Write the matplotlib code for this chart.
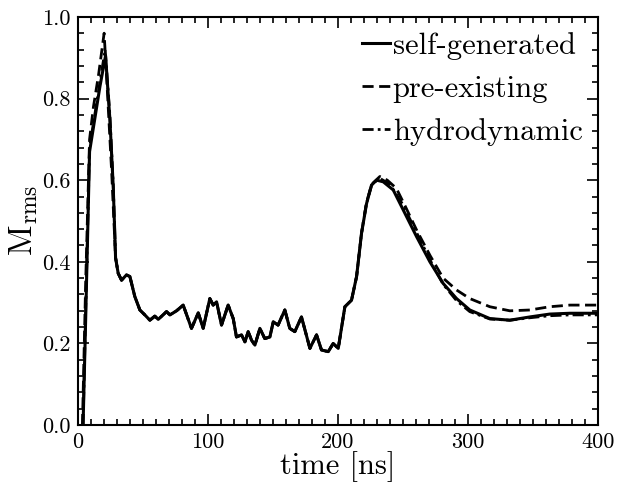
import matplotlib
matplotlib.use('Agg')
import matplotlib.pyplot as plt
from matplotlib.ticker import MultipleLocator, FormatStrFormatter

# fonts that look like the LaTeX original
plt.rcParams['font.family'] = ['cmr10', 'DejaVu Serif']
plt.rcParams['mathtext.fontset'] = 'cm'
plt.rcParams['axes.formatter.use_mathtext'] = False

# shared noisy middle part (all three runs coincide here)
t_mid = [29, 31, 33.6, 37.4, 40, 43.8, 47.7, 51.5, 55.4, 59.2, 61.8, 68.2, 70.8, 75.9,
         81, 87.4, 92.6, 96.4, 101.5, 104.1, 106.7, 110.5, 115.6, 119.5, 122, 125.9,
         128.5, 131, 133.6, 136.2, 140, 143.8, 147.7, 150.3, 154, 159.2, 163, 166.9,
         172, 178.5, 183.6, 187.4, 192.6, 196.4, 200.3, 205.4, 210.5, 214.4, 218.2]
m_mid = [0.41, 0.372, 0.355, 0.368, 0.364, 0.315, 0.282, 0.27, 0.257, 0.267, 0.259, 0.278,
         0.27, 0.28, 0.294, 0.237, 0.275, 0.237, 0.31, 0.294, 0.302, 0.245, 0.294, 0.261,
         0.216, 0.221, 0.204, 0.229, 0.208, 0.196, 0.237, 0.212, 0.216, 0.253, 0.245, 0.282,
         0.237, 0.229, 0.265, 0.188, 0.221, 0.184, 0.18, 0.2, 0.188, 0.29, 0.306, 0.364, 0.47]

# self-generated
t_self_a = [4, 6, 9, 13, 17, 21.3, 24.6, 27.2]
m_self_a = [0.0, 0.26, 0.67, 0.75, 0.83, 0.905, 0.75, 0.584]
t_self_b = [222.1, 225.9, 229.8, 234.9, 242.6, 250.3, 260.5, 270.8, 281, 291.3, 301.5,
            316.9, 332.3, 347.7, 363, 378.5, 400]
m_self_b = [0.543, 0.588, 0.6, 0.596, 0.576, 0.527, 0.462, 0.4, 0.347, 0.31, 0.282,
            0.261, 0.257, 0.265, 0.272, 0.274, 0.274]

# pre-existing
t_pre_a = [3.5, 6, 9, 12, 16, 20.2, 23, 26]
m_pre_a = [0.0, 0.35, 0.7, 0.78, 0.86, 0.96, 0.8, 0.62]
t_pre_b = [222, 226, 232.3, 238, 245, 252, 261, 271, 281, 291.3, 301.5, 316.9, 332.3,
           347.7, 363, 378.5, 400]
m_pre_b = [0.545, 0.59, 0.609, 0.6, 0.58, 0.535, 0.475, 0.415, 0.36, 0.331, 0.31, 0.29,
           0.28, 0.282, 0.29, 0.294, 0.294]

# hydrodynamic
t_hyd_a = [4, 6, 9, 13, 17, 21, 24.6, 27.2]
m_hyd_a = [0.0, 0.28, 0.68, 0.76, 0.84, 0.92, 0.76, 0.59]
t_hyd_b = [222, 226, 232, 240, 250, 260, 270.8, 281, 291.3, 301.5, 316.9, 332.3, 347.7,
           363, 378.5, 400]
m_hyd_b = [0.543, 0.588, 0.605, 0.59, 0.54, 0.475, 0.405, 0.345, 0.305, 0.278, 0.26,
           0.257, 0.263, 0.268, 0.27, 0.27]

fig = plt.figure(figsize=(6.28, 4.82), dpi=100)
ax = fig.add_axes([0.124, 0.118, 0.828, 0.847])

ax.plot(t_pre_a + t_mid + t_pre_b, m_pre_a + m_mid + m_pre_b, color='black', lw=2.0,
        dashes=(4, 2), label='pre-existing')
ax.plot(t_hyd_a + t_mid + t_hyd_b, m_hyd_a + m_mid + m_hyd_b, color='black', lw=2.0,
        dashes=(4, 1.5, 1, 1.5), label='hydrodynamic')
ax.plot(t_self_a + t_mid + t_self_b, m_self_a + m_mid + m_self_b, color='black', lw=2.2,
        label='self-generated')

ax.set_xlim(0, 400)
ax.set_ylim(0, 1.0)
ax.xaxis.set_major_locator(MultipleLocator(100))
ax.xaxis.set_minor_locator(MultipleLocator(10))
ax.xaxis.set_major_formatter(FormatStrFormatter('%d'))
ax.yaxis.set_major_locator(MultipleLocator(0.2))
ax.yaxis.set_minor_locator(MultipleLocator(0.04))
ax.yaxis.set_major_formatter(FormatStrFormatter('%.1f'))
ax.tick_params(which='both', direction='in', top=True, right=True, width=1.2)
ax.tick_params(which='major', length=8, labelsize=16, pad=5)
ax.tick_params(which='minor', length=4)
for s in ax.spines.values():
    s.set_linewidth(1.5)

ax.set_xlabel('time [ns]', fontsize=22, labelpad=0)
ax.set_ylabel(r'$\mathrm{M}_{\mathrm{rms}}$', fontsize=24, labelpad=2)

h, l = ax.get_legend_handles_labels()
order = [2, 0, 1]
ax.legend([h[i] for i in order], [l[i] for i in order], loc='upper right', frameon=False,
          fontsize=22, handlelength=0.9, handletextpad=0.1, labelspacing=0.5,
          borderaxespad=0.3, borderpad=0.2)

fig.savefig('out.png', dpi=100)
